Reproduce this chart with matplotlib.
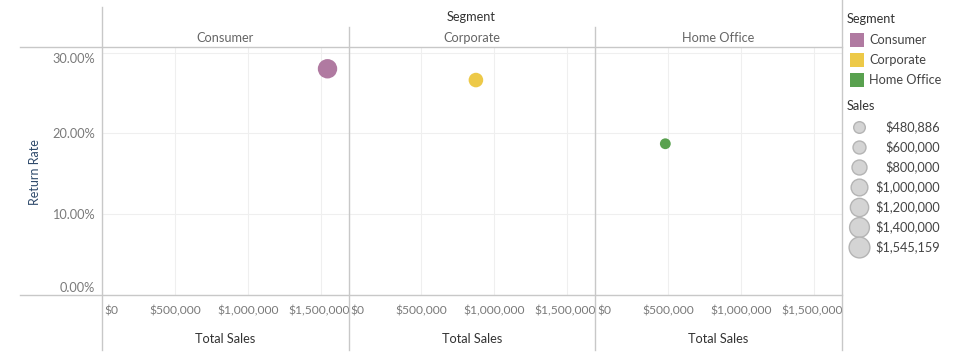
import matplotlib.pyplot as plt
from matplotlib.lines import Line2D
from matplotlib.transforms import ScaledTranslation

# data
segments = ['Consumer', 'Corporate', 'Home Office']
total_sales = [1545159, 873000, 480886]
return_rate = [0.280, 0.266, 0.187]
colors = ['#B07AA1', '#EDC948', '#59A14F']
x_ticks = [0, 500000, 1000000, 1500000]
x_ticklabels = ['$0', '$500,000', '$1,000,000', '$1,500,000']
y_ticks = [0.0, 0.1, 0.2, 0.3]
y_ticklabels = ['0.00%', '10.00%', '20.00%', '30.00%']
legend_sales = [480886, 600000, 800000, 1000000, 1200000, 1400000, 1545159]
legend_labels = ['$480,886', '$600,000', '$800,000', '$1,000,000',
                 '$1,200,000', '$1,400,000', '$1,545,159']

plt.rcParams['font.family'] = ['Lato', 'DejaVu Sans']
W, H = 956, 357
fig = plt.figure(figsize=(W / 100, H / 100), dpi=100)

def fx(px):
    return px / W

def fy(py):
    return 1 - py / H

def size(v):
    return v / max(total_sales) * 195

panel_x = [102, 348.5, 595, 842]
top, bottom = 47, 294.5
grid_c = '#efefef'
line_c = '#c8c8c8'
tick_c = '#7a7a7a'
fs = 9.2

for i, seg in enumerate(segments):
    ax = fig.add_axes([fx(panel_x[i]), fy(bottom), fx(panel_x[i + 1] - panel_x[i]), (bottom - top) / H])
    ax.set_xlim(0, 1689000)
    ax.set_ylim(0, 0.307)
    for s in ax.spines.values():
        s.set_visible(False)
    ax.set_xticks(x_ticks)
    ax.set_yticks(y_ticks)
    ax.grid(True, color=grid_c, lw=0.8)
    ax.set_axisbelow(True)
    ax.tick_params(length=0, labelsize=fs, colors=tick_c, pad=8)
    ax.tick_params(axis='x', labelsize=8.7)
    ax.set_xticklabels(x_ticklabels)
    xl = ax.get_xticklabels()
    xl[0].set_ha('left')
    xl[0].set_transform(xl[0].get_transform() + ScaledTranslation(2 / 100, 0, fig.dpi_scale_trans))
    xl[-1].set_transform(xl[-1].get_transform() + ScaledTranslation(-2 / 100, 0, fig.dpi_scale_trans))
    if i == 0:
        ax.set_yticklabels(y_ticklabels)
        labs = ax.get_yticklabels()
        labs[0].set_va('bottom')
        labs[-1].set_va('top')
        ax.tick_params(axis='y', pad=5)
    else:
        ax.set_yticklabels([])
    ax.scatter([total_sales[i]], [return_rate[i]], s=size(total_sales[i]),
               color=colors[i], edgecolors='none', zorder=3)
    ax.set_xlabel('Total Sales', fontsize=fs, color='#333333', labelpad=12)
    fig.text(fx((panel_x[i] + panel_x[i + 1]) / 2), fy(38), seg, ha='center', va='center',
             fontsize=fs, color='#666666')

# header and frame lines
fig.text(fx(471), fy(17), 'Segment', ha='center', va='center', fontsize=fs, color='#333333')
fig.text(fx(35), fy(172), 'Return Rate', rotation=90, ha='center', va='center',
         fontsize=9, color='#2f4a6b')
fig.add_artist(Line2D([fx(20), fx(842)], [fy(47), fy(47)], color=line_c, lw=1))
fig.add_artist(Line2D([fx(20), fx(842)], [fy(294.5), fy(294.5)], color=line_c, lw=1))
fig.add_artist(Line2D([fx(102), fx(102)], [fy(7), fy(350)], color=line_c, lw=1))
for px in panel_x[1:3]:
    fig.add_artist(Line2D([fx(px), fx(px)], [fy(27), fy(350)], color=line_c, lw=1))
fig.add_artist(Line2D([fx(842), fx(842)], [fy(0), fy(350)], color=line_c, lw=1))

# legend
lax = fig.add_axes([fx(843), 0, fx(W - 843), 1])
lax.set_xlim(843, W)
lax.set_ylim(H, 0)
lax.axis('off')
lax.text(847, 19, 'Segment', ha='left', va='center', fontsize=fs, color='#333333')
for i, seg in enumerate(segments):
    yy = 40 + 20 * i
    lax.scatter([857], [yy], marker='s', s=100, color=colors[i], edgecolors='none')
    lax.text(869, yy, seg, ha='left', va='center', fontsize=fs, color='#444444')
lax.text(847, 106, 'Sales', ha='left', va='center', fontsize=fs, color='#333333')
for i, v in enumerate(legend_sales):
    yy = 127 + 20 * i
    lax.scatter([859], [yy], s=size(v) * 1.15, color='#d4d4d4', edgecolors='#b4b4b4', linewidths=1)
    lax.text(940, yy, legend_labels[i], ha='right', va='center', fontsize=fs, color='#444444')

plt.savefig('out.png', dpi=100)
